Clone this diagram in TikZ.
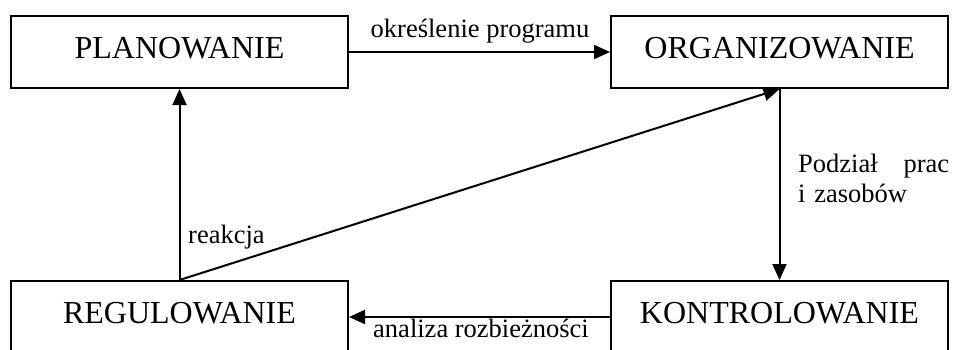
\documentclass[tikz,border=0pt]{standalone}
\usepackage{fontspec}
\setmainfont{Liberation Serif}
\usetikzlibrary{arrows.meta}

\begin{document}
\begin{tikzpicture}[x=1pt,y=-1pt,
  stage/.style={draw, line width=2pt, minimum width=337pt, minimum height=72pt,
    inner sep=0pt, text height=22pt, text depth=10pt,
    font=\fontsize{32}{36}\selectfont},
  flow/.style={line width=2pt, -{Triangle[length=16pt,width=14pt]}},
  lbl/.style={inner sep=0pt, font=\fontsize{26.5}{30}\selectfont}]
  \clip (0,0) rectangle (953,349);
  \useasboundingbox (0,0) rectangle (953,349);

  % the four stages of the management cycle
  \node[stage] (plan) at (179.5,52)  {PLANOWANIE};
  \node[stage] (org)  at (779.5,52)  {ORGANIZOWANIE};
  \node[stage] (reg)  at (179.5,317) {REGULOWANIE};
  \node[stage] (kon)  at (779.5,317) {KONTROLOWANIE};

  % connectors between the stages
  \draw[flow] (plan.east) -- (org.west);
  \draw[flow] (org.south) -- (kon.north);
  \draw[flow] (kon.west) -- (reg.east);
  \draw[flow] (reg.north) -- (plan.south);
  \draw[flow] (reg.north) -- (org.south);

  % connector labels
  \node[lbl, anchor=base] (lprog) at (480,37) {określenie programu};
  \node[lbl, anchor=base] (lanal) at (481,337) {analiza rozbieżności};
  \node[lbl, anchor=base west] (lreak) at (188,243) {reakcja};
  \node[lbl, anchor=base west, text width=151pt, align=left] (lpodz) at (798,172)
    {Podział\hfill prac\\i zasobów};
\end{tikzpicture}
\end{document}
